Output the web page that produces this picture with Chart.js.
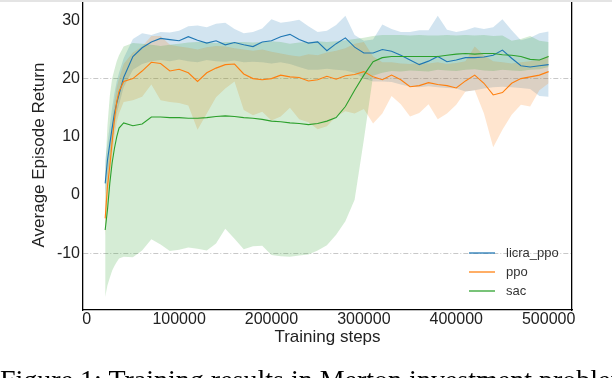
<!DOCTYPE html>
<html>
<head>
<meta charset="utf-8">
<title>Training results</title>
<script src="https://cdn.jsdelivr.net/npm/chart.js@4.4.1/dist/chart.umd.min.js"></script>
<style>
  html, body { margin: 0; padding: 0; background: #fff; overflow: hidden; }
  #wrap { position: relative; width: 612px; height: 378px; overflow: hidden; }
  #topband { position: absolute; left: 0; top: 0; width: 612px; height: 2px; background: #e4e4e4; }
  #caption {
    position: absolute; left: 0; top: 366px; white-space: nowrap; color: #000;
    font-family: "Liberation Serif", "Times New Roman", serif; font-size: 28px; line-height: 28px;
  }
</style>
</head>
<body>
<div id="wrap">
  <canvas id="chart" width="612" height="378"></canvas>
  <div id="topband"></div>
  <div id="caption">Figure 1: Training results in Merton investment problem</div>
</div>
<script>
'use strict'

// ************* Data ****************
let steps = [20000, 22500, 25000, 27500, 30000, 32500, 35000, 40000,
  50000, 60000, 70000, 80000, 90000, 100000, 110000, 120000, 130000, 140000,
  150000, 160000, 170000, 180000, 190000, 200000, 210000, 220000, 230000, 240000,
  250000, 260000, 270000, 280000, 290000, 300000, 310000, 320000, 330000, 340000,
  350000, 360000, 370000, 380000, 390000, 400000, 410000, 420000, 430000, 440000,
  450000, 460000, 470000, 480000, 490000, 500000];

let licraMean = [2, 6, 8.8, 11.5, 14, 15.8, 17.3, 20.2,
  23.8, 25.3, 26.3, 26.9, 26.7, 26.5, 27.2, 26.6, 26.1, 26.5,
  25.8, 26.2, 25.8, 25.5, 26.3, 26.5, 27.2, 27.6, 26.7, 26.1,
  26.3, 24.8, 26.0, 27.0, 25.4, 24.4, 24.4, 25.0, 24.7, 24.0,
  23.2, 22.4, 23.0, 23.8, 22.9, 23.2, 23.6, 23.6, 23.7, 24.0,
  24.9, 23.5, 22.2, 22.0, 22.2, 22.4];
let licraLow = [0, 3, 6, 9, 12, 14, 15.5, 18.5,
  21.5, 22.5, 23.0, 23.2, 23.0, 23.3, 23.0, 22.8, 23.2, 23.0,
  22.9, 23.1, 22.8, 22.9, 22.8, 22.6, 22.8, 22.5, 22.0, 21.5,
  21.5, 21.7, 21.5, 21.4, 21.0, 20.0, 19.5, 19.5, 19.4, 19.0,
  18.6, 18.5, 18.7, 18.5, 18.4, 18.3, 17.8, 18.0, 18.3, 18.5,
  18.6, 18.5, 18.4, 18.2, 17.0, 16.9];
let licraHigh = [6, 9, 12, 15, 17.5, 19.5, 21, 23.5,
  26.8, 27.8, 27.5, 28.0, 27.9, 28.2, 29.0, 29.1, 28.8, 29.4,
  29.6, 28.5, 27.8, 28.0, 28.6, 30.2, 29.6, 29.8, 30.1, 29.0,
  28.0, 28.2, 29.2, 30.8, 27.5, 26.5, 26.7, 29.3, 28.5, 28.0,
  28.0, 28.3, 28.3, 30.8, 28.4, 28.0, 28.3, 28.8, 28.5, 28.8,
  30.2, 28.3, 26.6, 27.0, 27.8, 28.1];

let ppoMean = [-4, 1.5, 5, 9, 13, 16, 17.8, 19.5,
  20.0, 21.3, 22.8, 22.6, 21.3, 21.6, 21.0, 19.5, 21.0, 21.8,
  22.4, 22.5, 20.8, 20.0, 19.8, 20.0, 20.6, 20.3, 20.2, 19.6,
  19.8, 20.4, 19.9, 20.5, 20.7, 21.2, 20.3, 19.8, 20.6, 19.8,
  18.6, 18.8, 19.3, 19.0, 18.8, 18.4, 19.6, 20.6, 19.2, 17.2,
  17.6, 19.2, 20.0, 20.3, 20.6, 21.2];
let ppoLow = [-7, -1, 3, 6.5, 10, 12.5, 14, 16,
  16.3, 16.9, 19.0, 16.3, 16.0, 15.8, 15.4, 11.2, 14.0, 16.8,
  18.3, 19.5, 14.6, 13.7, 14.3, 12.8, 13.5, 15.0, 13.0, 12.5,
  11.3, 11.8, 13.5, 14.4, 14.0, 14.8, 12.3, 14.0, 17.0, 15.6,
  13.5, 14.1, 15.6, 13.0, 14.0, 15.5, 17.8, 18.0, 14.0, 8.2,
  11.2, 13.8, 15.5, 15.2, 18.0, 19.2];
let ppoHigh = [-1, 4.5, 8, 12, 16, 18.5, 20, 22.5,
  24.5, 25.5, 27.3, 27.3, 25.8, 25.5, 25.3, 25.0, 25.4, 25.6,
  25.5, 25.2, 25.0, 24.8, 25.0, 24.6, 24.3, 24.0, 23.8, 24.2,
  24.0, 24.5, 24.8, 25.2, 26.0, 26.3, 23.8, 22.8, 22.8, 22.6,
  22.5, 22.7, 22.6, 22.8, 22.5, 22.7, 23.0, 25.5, 24.0, 23.0,
  22.8, 22.6, 22.8, 23.0, 23.2, 24.0];

let sacMean = [-6, -2.5, 2, 5.5, 8, 10, 11.5, 12.4,
  11.9, 12.2, 13.4, 13.4, 13.3, 13.3, 13.2, 13.2, 13.3, 13.5,
  13.6, 13.5, 13.3, 13.2, 13.0, 12.7, 12.6, 12.4, 12.3, 12.1,
  12.3, 12.7, 13.3, 15.2, 18.0, 20.6, 22.9, 23.6, 23.8, 23.8,
  23.8, 23.8, 23.8, 23.8, 24.0, 24.2, 24.3, 24.2, 24.3, 24.3,
  24.1, 24.0, 23.8, 23.3, 23.2, 23.8];
let sacLow = [-17.5, -15.5, -14.2, -13, -12.2, -11.5, -10.9, -10.6,
  -10.7, -9.5, -7.6, -8.5, -9.6, -9.4, -9.0, -9.2, -9.5, -8.3,
  -5.8, -7.5, -9.3, -8.8, -8.7, -10.3, -10.5, -10.6, -10.4, -10.2,
  -9.5, -8.6, -6.8, -4.5, -0.8, 9.5, 20.5, 21.0, 21.3, 21.2,
  21.4, 21.3, 21.2, 21.5, 21.4, 21.3, 21.5, 21.6, 21.4, 21.3,
  21.5, 21.4, 21.3, 21.5, 21.6, 22.0];
let sacHigh = [4, 12, 17, 20, 21.5, 23, 24, 25.5,
  26.1, 26.0, 25.8, 25.6, 25.8, 26.0, 26.2, 26.3, 26.3, 26.1,
  26.3, 26.3, 26.3, 26.2, 26.3, 26.4, 26.3, 26.0, 26.2, 26.3,
  26.4, 26.3, 26.4, 26.6, 26.8, 27.0, 27.3, 27.5, 27.5, 27.5,
  27.4, 27.5, 27.4, 27.4, 27.5, 27.4, 27.5, 27.4, 27.5, 27.3,
  27.4, 26.5, 26.8, 27.3, 26.5, 26.3];

let seriesNames = ['licra_ppo', 'ppo', 'sac'];
let xTicks = [0, 100000, 200000, 300000, 400000, 500000];
let yTicks = [-10, 0, 10, 20, 30];
let refLines = [20, -10];


// ************* Styles ****************
let blue = '#1f77b4';
let orange = '#ff7f0e';
let green = '#2ca02c';
let fontFamily = '"Liberation Sans", Arial, sans-serif';
let textColor = '#222';

Chart.defaults.font.family = fontFamily;


// ************ Helpers **********
function toPoints(values) {
  let points = [];
  for (let i = 0; i < values.length; i++) {
    points.push({ x: steps[i], y: values[i] });
  }
  return points;
}

function meanLine(label, values, color, order) {
  return {
    label: label,
    data: toPoints(values),
    borderColor: color,
    borderWidth: 1.1,
    pointRadius: 0,
    fill: false,
    order: order
  };
}

function bandEdge(label, values, fill, color, order) {
  return {
    label: label,
    data: toPoints(values),
    borderWidth: 0,
    borderColor: 'rgba(0,0,0,0)',
    backgroundColor: color,
    pointRadius: 0,
    fill: fill,
    order: order
  };
}


// *************** legend in the lower right corner ****************
let cornerLegend = {
  id: 'cornerLegend',
  afterDraw(chart) {
    let ctx = chart.ctx;
    let area = chart.chartArea;
    let colors = [blue, orange, green];
    let x0 = area.right - 103;
    let y0 = area.bottom - 57;
    ctx.save();
    ctx.font = '13px ' + fontFamily;
    ctx.textBaseline = 'middle';
    ctx.textAlign = 'left';
    for (let i = 0; i < seriesNames.length; i++) {
      let y = y0 + i * 19;
      ctx.globalAlpha = 0.85;
      ctx.strokeStyle = colors[i];
      ctx.lineWidth = 1.5;
      ctx.beginPath();
      ctx.moveTo(x0, y);
      ctx.lineTo(x0 + 26, y);
      ctx.stroke();
      ctx.globalAlpha = 1;
      ctx.fillStyle = '#333';
      ctx.fillText(seriesNames[i], x0 + 37, y);
    }
    ctx.restore();
  }
};


// *************** chart ****************
let chart = new Chart(document.getElementById('chart'), {
  type: 'line',
  data: {
    datasets: [
      meanLine(seriesNames[0], licraMean, blue, 2),
      meanLine(seriesNames[1], ppoMean, orange, 1),
      meanLine(seriesNames[2], sacMean, green, 0),
      bandEdge('licra_low', licraLow, false, 'rgba(0,0,0,0)', 12),
      bandEdge('licra_high', licraHigh, '-1', 'rgba(31,119,180,0.2)', 12),
      bandEdge('ppo_low', ppoLow, false, 'rgba(0,0,0,0)', 11),
      bandEdge('ppo_high', ppoHigh, '-1', 'rgba(255,127,14,0.2)', 11),
      bandEdge('sac_low', sacLow, false, 'rgba(0,0,0,0)', 10),
      bandEdge('sac_high', sacHigh, '-1', 'rgba(44,160,44,0.2)', 10)
    ]
  },
  options: {
    responsive: false,
    animation: false,
    events: [],
    layout: { padding: { left: 0, right: 40, top: 0, bottom: 0 } },
    elements: { line: { tension: 0 } },
    plugins: {
      legend: { display: false },
      tooltip: { enabled: false }
    },
    scales: {
      x: {
        type: 'linear',
        min: -4000,
        max: 525300,
        afterBuildTicks: function (axis) {
          axis.ticks = xTicks.map(v => ({ value: v }));
        },
        afterFit: function (axis) {
          axis.height = 68;
          axis.paddingLeft = 0;
          axis.paddingRight = 0;
        },
        grid: { display: false, drawTicks: false },
        border: { color: '#000', width: 1.3 },
        ticks: {
          color: textColor,
          font: { size: 16 },
          padding: 0,
          maxRotation: 0,
          autoSkip: false,
          callback: v => String(v)
        },
        title: {
          display: true,
          text: 'Training steps',
          color: textColor,
          font: { size: 17 },
          padding: { top: 0, bottom: 30 }
        }
      },
      y: {
        type: 'linear',
        position: 'left',
        min: -19.74,
        max: 33.5,
        afterBuildTicks: function (axis) {
          axis.ticks = yTicks.map(v => ({ value: v }));
        },
        afterFit: function (axis) {
          axis.width = 83;
          axis.paddingTop = 0;
          axis.paddingBottom = 0;
        },
        grid: {
          drawTicks: false,
          lineWidth: 0.9,
          color: function (ctx) {
            if (ctx.tick && refLines.includes(ctx.tick.value)) {
              return '#c2c2c2';
            }
            return 'rgba(0,0,0,0)';
          }
        },
        border: { color: '#000', width: 1.3, dash: [5, 2, 1, 2] },
        ticks: { color: textColor, font: { size: 16 }, padding: 3 },
        title: {
          display: true,
          text: 'Average Episode Return',
          color: textColor,
          font: { size: 17 },
          padding: { top: 29, bottom: 0 }
        }
      },
      yRight: {
        type: 'linear',
        position: 'right',
        min: -19.74,
        max: 33.5,
        afterFit: function (axis) {
          axis.width = 0;
          axis.paddingTop = 0;
          axis.paddingBottom = 0;
        },
        grid: { display: false, drawTicks: false },
        border: { color: '#000', width: 1.3 },
        ticks: { display: false }
      }
    }
  },
  plugins: [cornerLegend]
});
</script>
</body>
</html>
